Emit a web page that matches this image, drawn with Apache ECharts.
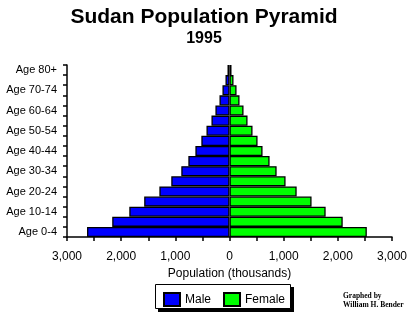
<!DOCTYPE html>
<html><head><meta charset="utf-8">
<script src="https://cdn.jsdelivr.net/npm/echarts@6/dist/echarts.min.js"></script>
<style>html,body{margin:0;padding:0;background:#fff}#c{width:411px;height:316px}</style>
</head><body><div id="c"></div>
<script>
var ageGroups = ['Age 0-4','Age 5-9','Age 10-14','Age 15-19','Age 20-24','Age 25-29','Age 30-34','Age 35-39','Age 40-44','Age 45-49','Age 50-54','Age 55-59','Age 60-64','Age 65-69','Age 70-74','Age 75-79','Age 80+'];
var maleValues = [2630, 2165, 1850, 1575, 1295, 1075, 890, 760, 630, 520, 425, 333, 260, 185, 130, 74, 37];
var femaleValues = [2535, 2090, 1775, 1515, 1240, 1035, 870, 740, 610, 518, 425, 333, 259, 185, 130, 74, 37];
var xTicks = [-3000, -2000, -1000, 0, 1000, 2000, 3000];

var chart = echarts.init(document.getElementById('c'));
var font = 'Liberation Sans, Arial, sans-serif';
chart.setOption({
  animation: false,
  title: [
    {text: 'Sudan Population Pyramid', left: 199, top: 2, textAlign: 'center',
     textStyle: {fontFamily: font, fontWeight: 'bold', fontSize: 21, color: '#000'}},
    {text: '1995', left: 199, top: 26, textAlign: 'center',
     textStyle: {fontFamily: font, fontWeight: 'bold', fontSize: 16, color: '#000'}}
  ],
  grid: {left: 67, right: 19, top: 65, bottom: 79, containLabel: false},
  legend: {
    data: ['Male', 'Female'], left: 163, top: 292, z: 30,
    padding: 0, itemGap: 12, itemWidth: 16, itemHeight: 13,
    textStyle: {fontFamily: font, fontSize: 12, color: '#000'},
    icon: 'rect'
  },
  xAxis: {
    type: 'value', min: xTicks[0], max: xTicks[xTicks.length - 1], interval: 1000,
    name: 'Population (thousands)', nameLocation: 'middle', nameGap: 31,
    nameTextStyle: {fontFamily: font, fontSize: 12, color: '#000'},
    axisLine: {show: true, lineStyle: {color: '#000', width: 1.5}},
    axisTick: {show: true, length: 4, lineStyle: {color: '#000', width: 1.5}},
    minorTick: {show: true, splitNumber: 2, length: 4, lineStyle: {color: '#000', width: 1.5}},
    splitLine: {show: false},
    axisLabel: {fontFamily: font, fontSize: 12, color: '#000', margin: 14,
      formatter: function (v) { return Math.abs(v).toLocaleString('en-US'); }}
  },
  yAxis: {
    type: 'category', data: ageGroups,
    axisLine: {show: true, onZero: false, lineStyle: {color: '#000', width: 1.5}},
    axisTick: {show: true, interval: 0, length: 4, lineStyle: {color: '#000', width: 1.5}},
    axisLabel: {interval: 1, fontFamily: font, fontSize: 11, color: '#000', margin: 10},
    splitLine: {show: false}
  },
  series: [
    {name: 'Male', type: 'bar', stack: 'pop', barCategoryGap: 0,
     data: maleValues.map(function (v) { return -v; }),
     itemStyle: {color: '#0000ff', borderColor: '#000', borderWidth: 1.3}},
    {name: 'Female', type: 'bar', stack: 'pop', barCategoryGap: 0,
     data: femaleValues,
     itemStyle: {color: '#00ff00', borderColor: '#000', borderWidth: 1.3}}
  ],
  graphic: [
    {type: 'rect', z: 10, left: 158, top: 287, shape: {width: 136, height: 25}, style: {fill: '#000'}},
    {type: 'rect', z: 11, left: 155, top: 284, shape: {width: 135, height: 24}, style: {fill: '#fff', stroke: '#000', lineWidth: 1}},
    {type: 'text', z: 12, left: 343, top: 292,
     style: {text: 'Graphed by\nWilliam H. Bender', fontFamily: 'Liberation Serif, Times New Roman, serif',
       fontWeight: 'bold', fontSize: 7.5, lineHeight: 9, fill: '#000'}}
  ]
});
</script></body></html>
